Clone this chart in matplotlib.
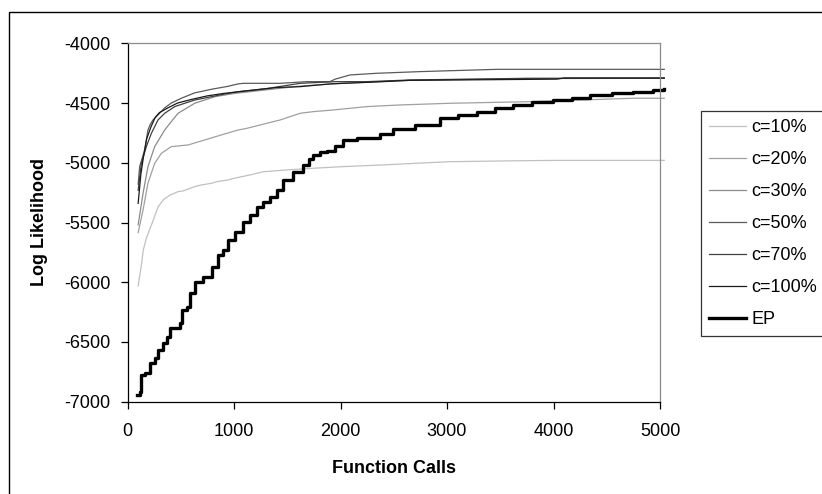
import matplotlib
matplotlib.use("Agg")
import matplotlib.pyplot as plt
from matplotlib.patches import Rectangle

plt.rcParams['font.family'] = ['Liberation Sans', 'DejaVu Sans']

# ---- data -------------------------------------------------------------
labels = ["c=10%", "c=20%", "c=30%", "c=50%", "c=70%", "c=100%", "EP"]

c10_x = [100, 133, 148, 177, 195, 242, 286, 336, 400, 474, 524, 631, 690, 787, 840,
         944, 1000, 1150, 1275, 1500, 1745, 2026, 2400, 2716, 3030, 3500, 4000, 5040]
c10_y = [-6030, -5840, -5730, -5630, -5590, -5480, -5370, -5310, -5270, -5242, -5235,
         -5200, -5186, -5172, -5158, -5144, -5130, -5102, -5075, -5060, -5046, -5032,
         -5018, -5004, -4991, -4985, -4980, -4980]

c20_x = [100, 146, 192, 255, 318, 411, 568, 725, 881, 1038, 1119, 1432, 1620, 1745,
         1932, 2246, 2559, 3028, 3812, 4749, 5040]
c20_y = [-5585, -5395, -5172, -5005, -4921, -4865, -4851, -4809, -4767, -4726, -4712,
         -4642, -4586, -4572, -4558, -4530, -4516, -4502, -4488, -4460, -4460]

c30_x = [100, 146, 192, 255, 349, 411, 474, 631, 819, 1007, 1300, 1600, 2000, 2650,
         3750, 5040]
c30_y = [-5520, -5256, -5033, -4865, -4726, -4656, -4586, -4502, -4447, -4419, -4390,
         -4360, -4335, -4310, -4295, -4293]

c50_x = [100, 114, 161, 192, 211, 239, 286, 350, 411, 505, 631, 787, 944, 1038, 1088,
         1432, 1683, 1900, 1950, 2089, 2340, 2746, 3467, 5040]
c50_y = [-5180, -5033, -4893, -4726, -4684, -4642, -4600, -4540, -4500, -4460, -4415,
         -4385, -4360, -4340, -4335, -4335, -4321, -4321, -4300, -4265, -4251, -4237,
         -4218, -4218]

c70_x = [100, 130, 177, 224, 286, 349, 443, 537, 631, 787, 944, 1038, 1300, 1620, 1950,
         2246, 2652, 3743, 5040]
c70_y = [-5230, -5005, -4865, -4754, -4642, -4586, -4530, -4502, -4475, -4447, -4419,
         -4405, -4380, -4335, -4321, -4321, -4307, -4293, -4293]

c100_x = [100, 125, 150, 180, 220, 260, 300, 380, 470, 600, 750, 900, 1100, 1400, 1620,
          1900, 2300, 2652, 4033, 4100, 5040]
c100_y = [-5340, -5100, -4950, -4800, -4700, -4620, -4580, -4540, -4500, -4470, -4440,
          -4420, -4400, -4370, -4363, -4340, -4325, -4310, -4300, -4290, -4290]

ep_x = [90, 117, 124, 164, 211, 258, 289, 336, 368, 399, 462, 493, 509, 556, 587, 634,
        712, 790, 853, 900, 947, 1009, 1088, 1150, 1213, 1275, 1338, 1400, 1463, 1557,
        1651, 1700, 1745, 1808, 1870, 1950, 2026, 2152, 2371, 2497, 2700, 2934, 3100,
        3279, 3450, 3623, 3800, 3998, 4170, 4343, 4550, 4749, 4937, 5040]
ep_y = [-6945, -6916, -6776, -6762, -6679, -6637, -6567, -6511, -6456, -6386, -6386,
        -6344, -6232, -6204, -6093, -5995, -5953, -5870, -5772, -5730, -5646, -5577,
        -5493, -5437, -5368, -5326, -5290, -5228, -5144, -5075, -5019, -4970, -4935,
        -4907, -4900, -4860, -4809, -4795, -4760, -4720, -4680, -4628, -4600, -4572,
        -4545, -4516, -4495, -4475, -4455, -4433, -4420, -4405, -4391, -4385]

x_ticks = [0, 1000, 2000, 3000, 4000, 5000]
y_ticks = [-7000, -6500, -6000, -5500, -5000, -4500, -4000]

# ---- styling ------------------------------------------------------------
# (x, y, colour, width, drawstyle)
series = [
    (c10_x, c10_y, "#c0c0c0", 0.9, "default"),
    (c20_x, c20_y, "#a0a0a0", 0.9, "default"),
    (c30_x, c30_y, "#8c8c8c", 0.9, "default"),
    (c50_x, c50_y, "#5a5a5a", 0.9, "default"),
    (c70_x, c70_y, "#404040", 0.9, "default"),
    (c100_x, c100_y, "#1a1a1a", 0.9, "default"),
    (ep_x, ep_y, "#000000", 2.4, "steps-post"),
]

W, H = 822, 494
fig = plt.figure(figsize=(W / 100, H / 100), dpi=100)
ax = fig.add_axes([127.5 / W, 1 - 401.7 / H, (660 - 127.5) / W, (401.7 - 43.3) / H])

handles = []
for (xs, ys, col, lw, ds), lab in zip(series, labels):
    h, = ax.plot(xs, ys, color=col, lw=lw, drawstyle=ds,
                 clip_on=False, label=lab)
    handles.append(h)

ax.set_xlim(0, 5000)
ax.set_ylim(-7000, -4000)
ax.set_xticks(x_ticks)
ax.set_yticks(y_ticks)
ax.set_xticklabels([str(v) for v in x_ticks])
ax.set_yticklabels([str(v) for v in y_ticks])
ax.tick_params(direction="out", length=5, width=0.9, labelsize=13, colors="black")
ax.tick_params(axis="y", pad=7)
ax.tick_params(axis="x", pad=10)

for side in ("left", "bottom"):
    ax.spines[side].set_color("black")
    ax.spines[side].set_linewidth(0.9)
for side in ("top", "right"):
    ax.spines[side].set_color("#8c8c8c")
    ax.spines[side].set_linewidth(0.9)

ax.set_xlabel("Function Calls", fontsize=13, fontweight="bold", labelpad=15)
ax.set_ylabel("Log Likelihood", fontsize=13, fontweight="bold", labelpad=12)

leg = fig.legend(handles=handles, labels=labels, loc="upper left",
                 bbox_to_anchor=(701 / W, 1 - 111 / H), fontsize=13,
                 frameon=True, fancybox=False, edgecolor="black",
                 borderaxespad=0, borderpad=0.45, labelspacing=0.83,
                 handlelength=2.05, handletextpad=0.28)
leg.get_frame().set_linewidth(0.9)

# outer chart border
fig.patches.append(Rectangle((9 / W, -0.2), 2.0, 1 - 12 / H + 0.2,
                             transform=fig.transFigure, fill=False,
                             edgecolor="black", linewidth=1.0))

fig.savefig("out.png", dpi=100, facecolor="white")
